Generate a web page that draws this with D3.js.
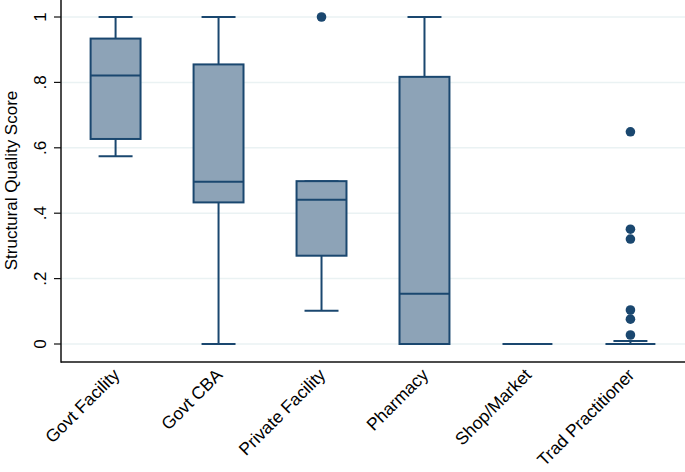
<!DOCTYPE html>
<html>
<head>
<meta charset="utf-8">
<script src="https://cdn.jsdelivr.net/npm/d3@7"></script>
<style>
  html, body { margin: 0; padding: 0; background: #fff; }
  svg { display: block; }
  text { font-family: "Liberation Sans", Arial, sans-serif; fill: #000; }
</style>
</head>
<body>
<svg id="chart" width="685" height="472"></svg>
<script>
const categories = ["Govt Facility", "Govt CBA", "Private Facility", "Pharmacy", "Shop/Market", "Trad Practitioner"];
const whiskerLo = [0.574, 0.000, 0.102, 0.000, 0.000, 0.000];
const q1        = [0.627, 0.433, 0.270, 0.000, 0.000, 0.000];
const median    = [0.821, 0.496, 0.441, 0.154, 0.000, 0.000];
const q3        = [0.934, 0.855, 0.498, 0.817, 0.000, 0.000];
const whiskerHi = [1.000, 1.000, 0.498, 1.000, 0.000, 0.009];
const outliers  = [[], [], [1.0], [], [], [0.649, 0.351, 0.321, 0.104, 0.076, 0.0275]];
const yTicks = [0, 0.2, 0.4, 0.6, 0.8, 1];
const yTickLabels = ["0", ".2", ".4", ".6", ".8", "1"];
const yTitle = "Structural Quality Score";

const navy = "#1a476f";
const fill = "#8da3b7";
const grid = "#eaf2f3";

const svg = d3.select("#chart");
const left = 61, right = 685, axisBottom = 362;

const x = d3.scalePoint().domain(categories).range([left, right]).padding(0.53);
const y = d3.scaleLinear().domain([0, 1]).range([344, 17]);
const boxW = x.step() * 0.485;
const capW = x.step() * 0.33;

// gridlines
svg.append("g").selectAll("line").data(yTicks).join("line")
  .attr("x1", left).attr("x2", right)
  .attr("y1", d => y(d)).attr("y2", d => y(d))
  .attr("stroke", grid).attr("stroke-width", 1.5);

const data = categories.map((c, i) => ({
  c, lo: whiskerLo[i], q1: q1[i], med: median[i], q3: q3[i], hi: whiskerHi[i], out: outliers[i]
}));

const g = svg.append("g").selectAll("g").data(data).join("g");

// whiskers
g.append("line")
  .attr("x1", d => x(d.c)).attr("x2", d => x(d.c))
  .attr("y1", d => y(d.q3)).attr("y2", d => y(d.hi))
  .attr("stroke", navy).attr("stroke-width", 2);
g.append("line")
  .attr("x1", d => x(d.c)).attr("x2", d => x(d.c))
  .attr("y1", d => y(d.q1)).attr("y2", d => y(d.lo))
  .attr("stroke", navy).attr("stroke-width", 2);
// caps
g.append("line")
  .attr("x1", d => x(d.c) - capW / 2).attr("x2", d => x(d.c) + capW / 2)
  .attr("y1", d => y(d.hi)).attr("y2", d => y(d.hi))
  .attr("stroke", navy).attr("stroke-width", 2);
g.append("line")
  .attr("x1", d => x(d.c) - capW / 2).attr("x2", d => x(d.c) + capW / 2)
  .attr("y1", d => y(d.lo)).attr("y2", d => y(d.lo))
  .attr("stroke", navy).attr("stroke-width", 2);
// box
g.append("rect")
  .attr("x", d => x(d.c) - boxW / 2).attr("width", boxW)
  .attr("y", d => y(d.q3)).attr("height", d => y(d.q1) - y(d.q3))
  .attr("fill", fill).attr("stroke", navy).attr("stroke-width", 2);
// median
g.append("line")
  .attr("x1", d => x(d.c) - boxW / 2).attr("x2", d => x(d.c) + boxW / 2)
  .attr("y1", d => y(d.med)).attr("y2", d => y(d.med))
  .attr("stroke", navy).attr("stroke-width", 2);
// outliers
g.selectAll("circle").data(d => d.out.map(v => ({ c: d.c, v }))).join("circle")
  .attr("cx", d => x(d.c)).attr("cy", d => y(d.v)).attr("r", 4.8)
  .attr("fill", navy);

// axes lines
svg.append("line").attr("x1", left).attr("x2", left).attr("y1", 0).attr("y2", axisBottom + 0.75)
  .attr("stroke", "#111").attr("stroke-width", 1.5);
svg.append("line").attr("x1", left).attr("x2", right).attr("y1", axisBottom).attr("y2", axisBottom)
  .attr("stroke", "#111").attr("stroke-width", 1.5);

// y ticks
svg.append("g").selectAll("line").data(yTicks).join("line")
  .attr("x1", 54).attr("x2", left)
  .attr("y1", d => y(d)).attr("y2", d => y(d))
  .attr("stroke", "#111").attr("stroke-width", 1.2);
svg.append("g").selectAll("text").data(yTicks).join("text")
  .attr("transform", (d) => `translate(46,${y(d)}) rotate(-90)`)
  .attr("text-anchor", "middle")
  .style("font-size", "17px")
  .text((d, i) => yTickLabels[i]);

// y title
svg.append("text")
  .attr("transform", `translate(17,${(y(0) + y(1)) / 2}) rotate(-90)`)
  .attr("text-anchor", "middle")
  .style("font-size", "17px")
  .text(yTitle);

// x labels
svg.append("g").selectAll("text").data(categories).join("text")
  .attr("transform", d => `translate(${x(d) + 5},${axisBottom + 14}) rotate(-45)`)
  .attr("text-anchor", "end")
  .style("font-size", "17.5px")
  .text(d => d);
</script>
</body>
</html>
